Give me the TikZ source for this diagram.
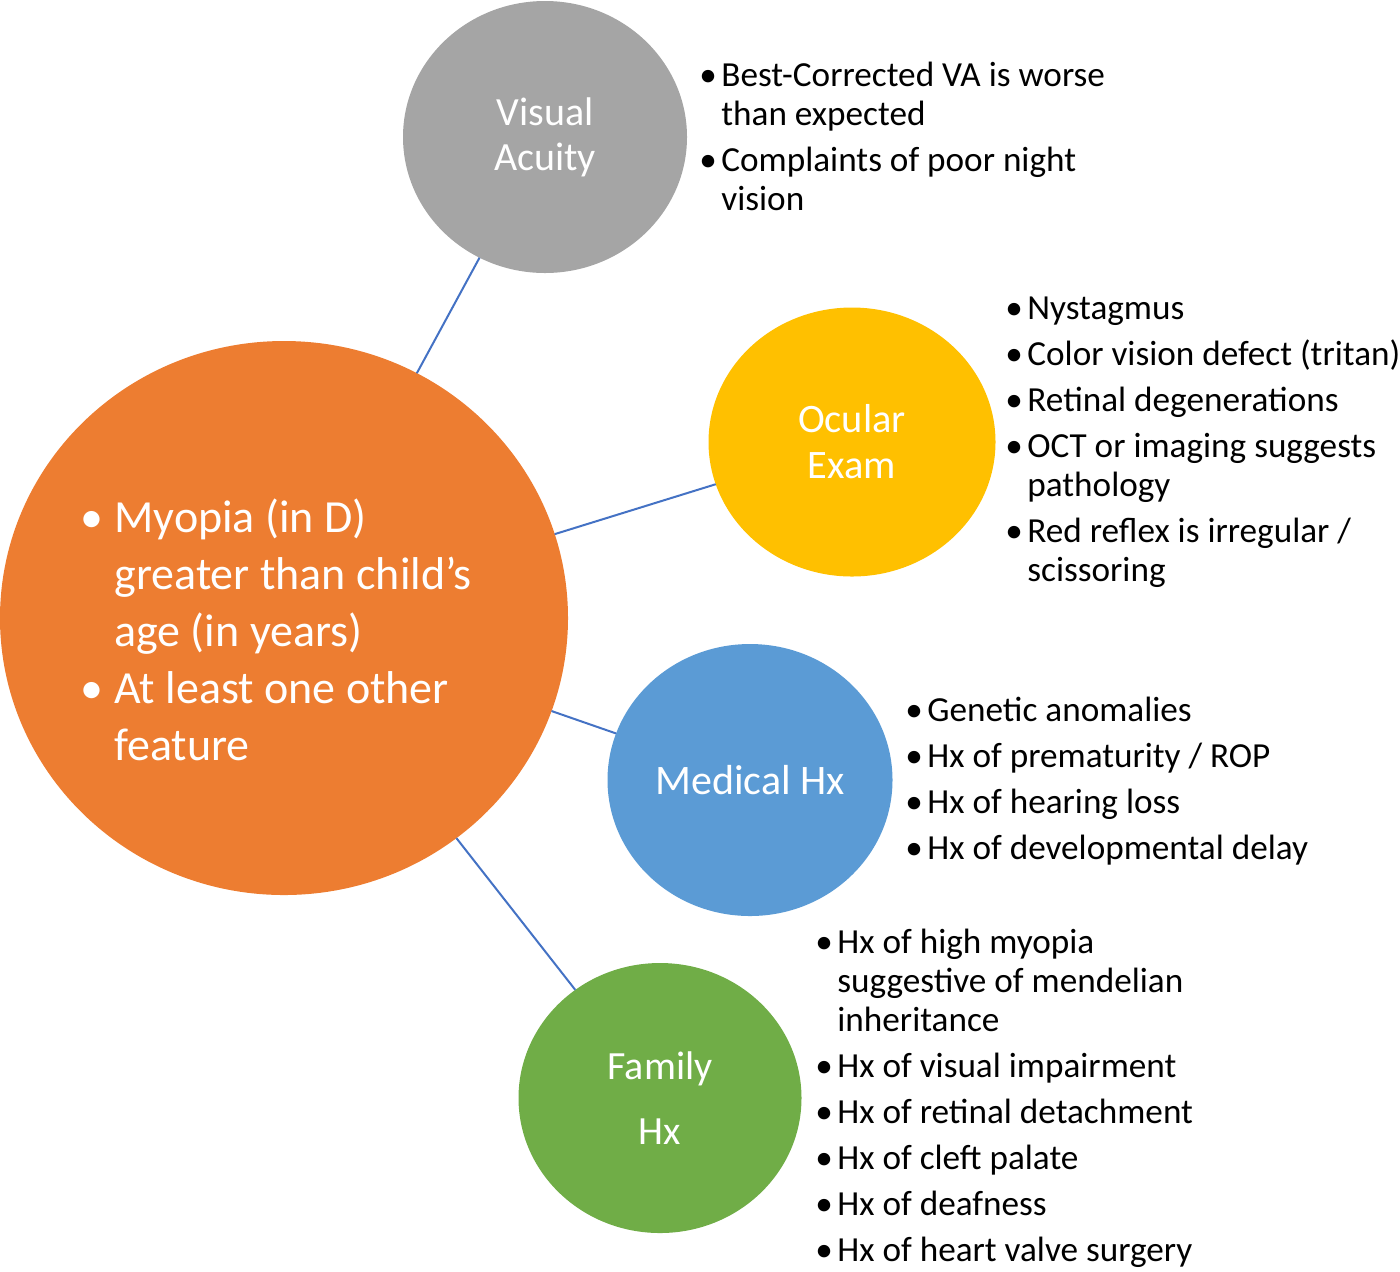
\documentclass[tikz,border=0pt]{standalone}
\usepackage{fontspec}
\setmainfont{Carlito}
\usetikzlibrary{shapes.geometric}
\definecolor{corange}{HTML}{ED7D31}
\definecolor{cgray}{HTML}{A5A5A5}
\definecolor{cyellow}{HTML}{FFC000}
\definecolor{cblue}{HTML}{5B9BD5}
\definecolor{cgreen}{HTML}{70AD47}
\definecolor{linkblue}{HTML}{4472C4}
\newcommand\bitem{\makebox[11pt][l]{•}}
\newcommand\bcont{\hspace*{11pt}}
\newcommand\mitem{\makebox[17pt][l]{•}}
\newcommand\mcont{\hspace*{17pt}}
\tikzset{
  bubble/.style={ellipse, draw=none, inner sep=0pt, outer sep=0pt, text=white, align=center},
  conn/.style={draw=linkblue, line width=1pt},
  blist/.style={anchor=base west, align=left, inner sep=0pt, font=\fontsize{17.6}{19.5}\selectfont},
}
\begin{document}
\begin{tikzpicture}[x=0.5pt,y=-0.5pt]
\useasboundingbox (0,0) rectangle (1400,1271);
% bubbles
\node[bubble, fill=corange, minimum width=284pt, minimum height=277pt] (main) at (284,618) {};
\node[bubble, fill=cgray, minimum width=142pt, minimum height=136pt,
      font=\fontsize{20}{22.5}\selectfont] (va) at (545,137) {Visual\\Acuity};
\node[bubble, fill=cyellow, minimum width=143.5pt, minimum height=134.5pt,
      font=\fontsize{20.2}{23}\selectfont] (oe) at (852,442) {Ocular\\Exam};
\node[bubble, fill=cblue, minimum width=142.5pt, minimum height=136pt,
      font=\fontsize{21}{24}\selectfont] (mh) at (750,780) {Medical Hx};
\node[bubble, fill=cgreen, minimum width=141.5pt, minimum height=135pt,
      font=\fontsize{20}{32.5}\selectfont] (fh) at (660,1098) {Family\\Hx};
% connectors
\draw[conn] (main) -- (va);
\draw[conn] (main) -- (oe);
\draw[conn] (main) -- (mh);
\draw[conn] (main) -- (fh);
% main text (anchored at the baseline of its last line)
\node[anchor=base west, align=left, inner sep=0pt, text=white,
      font=\fontsize{23}{28.5}\selectfont] (maintxt) at (80,760)
  {\mitem Myopia (in D)\\ \mcont greater than child’s\\ \mcont age (in years)\\
   \mitem At least one other\\ \mcont feature};
% lists (anchored at the baseline of their last line)
\node[blist] (valist) at (699,210)
  {\bitem Best-Corrected VA is worse\\ \bcont than expected\\[3.5pt]
   \bitem Complaints of poor night\\ \bcont vision};
\node[blist] (oelist) at (1005,581)
  {\bitem Nystagmus\\[3.5pt]
   \bitem Color vision defect (tritan)\\[3.5pt]
   \bitem Retinal degenerations\\[3.5pt]
   \bitem OCT or imaging suggests\\ \bcont pathology\\[3.5pt]
   \bitem Red reflex is irregular /\\ \bcont scissoring};
\node[blist] (mhlist) at (905,859)
  {\bitem Genetic anomalies\\[3.5pt]
   \bitem Hx of prematurity / ROP\\[3.5pt]
   \bitem Hx of hearing loss\\[3.5pt]
   \bitem Hx of developmental delay};
\node[blist] (fhlist) at (815,1261)
  {\bitem Hx of high myopia\\ \bcont suggestive of mendelian\\ \bcont inheritance\\[3.5pt]
   \bitem Hx of visual impairment\\[3.5pt]
   \bitem Hx of retinal detachment\\[3.5pt]
   \bitem Hx of cleft palate\\[3.5pt]
   \bitem Hx of deafness\\[3.5pt]
   \bitem Hx of heart valve surgery};
\end{tikzpicture}
\end{document}
